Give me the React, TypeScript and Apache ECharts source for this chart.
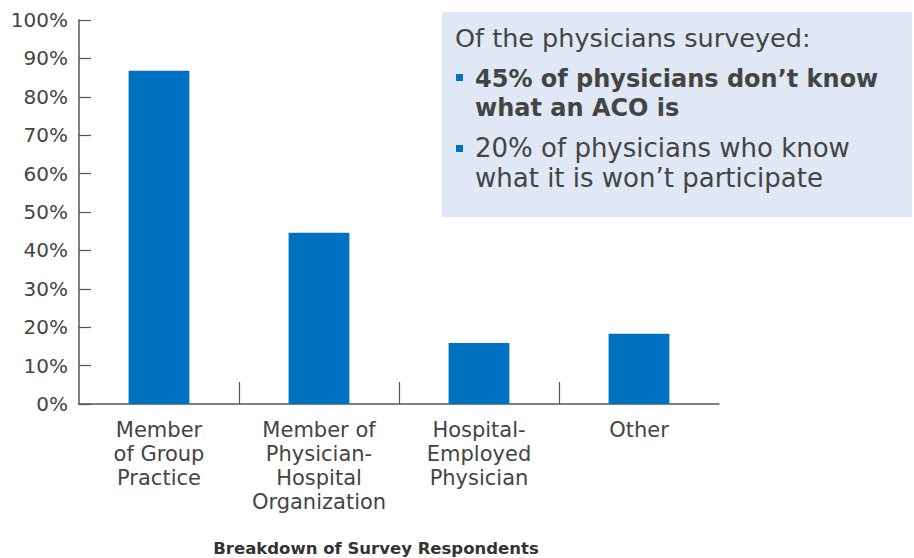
import React, { useEffect, useRef } from "react";
import * as echarts from "echarts";

const categories = [
  "Member\nof Group\nPractice",
  "Member of\nPhysician-\nHospital\nOrganization",
  "Hospital-\nEmployed\nPhysician",
  "Other",
];
const shares = [86.8, 44.6, 15.9, 18.3];
const yTicks = [0, 10, 20, 30, 40, 50, 60, 70, 80, 90, 100];
const xAxisTitle = "Breakdown of Survey Respondents";
const boxHeading = "Of the physicians surveyed:";
const boldBullet = ["45% of physicians don\u2019t know", "what an ACO is"];
const plainBullet = ["20% of physicians who know", "what it is won\u2019t participate"];

const FONT = "'DejaVu Sans', sans-serif";
const TXT = "#444444";
const AXIS = "#555555";
const BAR = "#0070c0";

export default function App() {
  const ref = useRef<HTMLDivElement>(null);
  useEffect(() => {
    if (!ref.current) return;
    const chart = echarts.init(ref.current, undefined, { renderer: "svg" });
    chart.setOption({
      animation: false,
      textStyle: { fontFamily: FONT },
      grid: { left: 79, right: 195, top: 20, bottom: 154, containLabel: false },
      xAxis: [
        {
          type: "category",
          data: categories,
          axisLine: { lineStyle: { color: AXIS, width: 1.5 } },
          axisTick: { show: false },
          axisLabel: {
            color: TXT,
            fontSize: 21,
            lineHeight: 24,
            margin: 14,
            fontFamily: FONT,
            interval: 0,
          },
        },
        {
          type: "value",
          position: "bottom",
          min: 0,
          max: categories.length,
          interval: 1,
          axisLine: { show: false },
          axisLabel: { show: false },
          splitLine: { show: false },
          axisTick: {
            show: true,
            inside: true,
            length: 22,
            customValues: [1, 2, 3],
            lineStyle: { color: AXIS, width: 1.2 },
          },
        },
      ],
      yAxis: {
        type: "value",
        min: yTicks[0],
        max: yTicks[yTicks.length - 1],
        interval: 10,
        axisLine: { show: true, lineStyle: { color: AXIS, width: 1.5 } },
        axisTick: { show: true, inside: true, length: 12, lineStyle: { color: AXIS, width: 1.2 } },
        splitLine: { show: false },
        axisLabel: {
          color: TXT,
          fontSize: 20,
          margin: 11,
          fontFamily: FONT,
          formatter: "{value}%",
        },
      },
      series: [
        {
          type: "bar",
          data: shares,
          barWidth: "38%",
          itemStyle: { color: BAR },
        },
      ],
      graphic: [
        {
          type: "text",
          x: 376,
          y: 548,
          style: {
            text: xAxisTitle,
            fill: "#333333",
            font: `bold 16.5px ${FONT}`,
            textAlign: "center",
            textVerticalAlign: "middle",
          },
        },
        {
          type: "group",
          x: 442,
          y: 12,
          children: [
            { type: "rect", shape: { x: 0, y: 0, width: 470, height: 205 }, style: { fill: "#dfe8f4" } },
            { type: "text", x: 13, y: 13, style: { text: boxHeading, fill: TXT, font: `25.5px ${FONT}` } },
            { type: "rect", shape: { x: 14, y: 62, width: 7, height: 7 }, style: { fill: BAR } },
            {
              type: "text",
              x: 33,
              y: 52,
              style: { text: boldBullet.join("\n"), fill: TXT, font: `bold 24px ${FONT}`, lineHeight: 29 },
            },
            { type: "rect", shape: { x: 14, y: 133, width: 7, height: 7 }, style: { fill: BAR } },
            {
              type: "text",
              x: 33,
              y: 121,
              style: { text: plainBullet.join("\n"), fill: TXT, font: `26px ${FONT}`, lineHeight: 30 },
            },
          ],
        },
      ],
    });
    return () => chart.dispose();
  }, []);
  return (
    <div
      ref={ref}
      style={{ width: 914, height: 558, position: "absolute", left: 0, top: 0 }}
    />
  );
}
